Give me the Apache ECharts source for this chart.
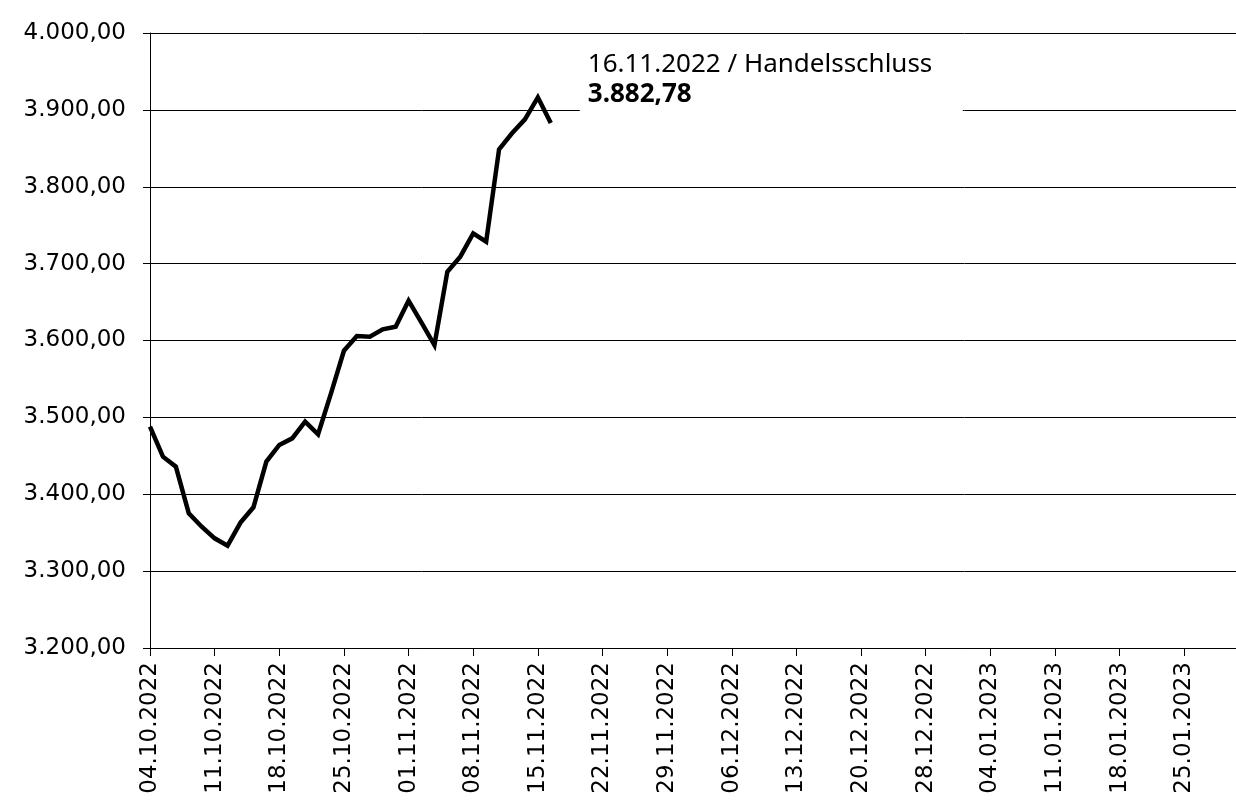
<!DOCTYPE html>
<html>
<head>
<meta charset="utf-8">
<script src="https://cdn.jsdelivr.net/npm/echarts@6/dist/echarts.min.js"></script>
<style>
  html, body { margin: 0; padding: 0; background: #fff; }
  #chart { width: 1236px; height: 800px; }
</style>
</head>
<body>
<div id="chart"></div>
<script>
// Trading days shown on the time axis (Oct 2022 – Jan 2023)
const tradingDays = [
  '04.10.2022','05.10.2022','06.10.2022','07.10.2022','10.10.2022','11.10.2022','12.10.2022','13.10.2022','14.10.2022',
  '17.10.2022','18.10.2022','19.10.2022','20.10.2022','21.10.2022','24.10.2022','25.10.2022','26.10.2022','27.10.2022',
  '28.10.2022','31.10.2022',
  '01.11.2022','02.11.2022','03.11.2022','04.11.2022','07.11.2022','08.11.2022','09.11.2022','10.11.2022','11.11.2022',
  '14.11.2022','15.11.2022','16.11.2022','17.11.2022','18.11.2022','21.11.2022','22.11.2022','23.11.2022','24.11.2022',
  '25.11.2022','28.11.2022','29.11.2022','30.11.2022',
  '01.12.2022','02.12.2022','05.12.2022','06.12.2022','07.12.2022','08.12.2022','09.12.2022','12.12.2022','13.12.2022',
  '14.12.2022','15.12.2022','16.12.2022','19.12.2022','20.12.2022','21.12.2022','22.12.2022','23.12.2022','27.12.2022',
  '28.12.2022','29.12.2022','30.12.2022',
  '02.01.2023','03.01.2023','04.01.2023','05.01.2023','06.01.2023','09.01.2023','10.01.2023','11.01.2023','12.01.2023',
  '13.01.2023','16.01.2023','17.01.2023','18.01.2023','19.01.2023','20.01.2023','23.01.2023','24.01.2023','25.01.2023',
  '26.01.2023','27.01.2023','30.01.2023','31.01.2023'
];

// Daily closing values, 04.10.2022 – 16.11.2022
const closes = [
  3487.9, 3448.9, 3435.9, 3375.2, 3357.8, 3342.7, 3333.1, 3363.1, 3383.0,
  3442.4, 3464.1, 3472.7, 3494.4, 3478.0, 3531.3, 3586.7, 3605.9, 3605.0,
  3614.5, 3618.0, 3651.8, 3623.2, 3594.1, 3689.5, 3709.0, 3739.4, 3728.5,
  3848.7, 3869.5, 3887.7, 3916.3, 3882.78
];

const yMin = 3200, yMax = 4000, yStep = 100;
const closeLabelTitle = '16.11.2022 / Handelsschluss';

// German number format: 3.882,78
function deNumber(v) {
  const parts = v.toFixed(2).split('.');
  const intPart = parts[0].replace(/\B(?=(\d{3})+(?!\d))/g, '.');
  return intPart + ',' + parts[1];
}

const axisFont = 'DejaVu Sans';
const chart = echarts.init(document.getElementById('chart'), null, { renderer: 'canvas' });

chart.setOption({
  animation: false,
  backgroundColor: '#fff',
  grid: { left: 150, right: 0, top: 33, bottom: 152, containLabel: false },
  xAxis: {
    type: 'category',
    data: tradingDays,
    boundaryGap: false,
    axisLine: { show: true, lineStyle: { color: '#000', width: 1 } },
    axisTick: { show: true, interval: 4, length: 8, lineStyle: { color: '#000', width: 1 } },
    axisLabel: {
      interval: 4,
      rotate: 90,
      margin: 14,
      color: '#000',
      fontFamily: axisFont,
      fontSize: 23
    },
    splitLine: { show: false }
  },
  yAxis: {
    type: 'value',
    min: yMin,
    max: yMax,
    interval: yStep,
    axisLine: { show: true, lineStyle: { color: '#000', width: 1 } },
    axisTick: { show: true, length: 7, lineStyle: { color: '#000', width: 1 } },
    axisLabel: {
      margin: 24,
      color: '#000',
      fontFamily: axisFont,
      fontSize: 23,
      formatter: v => deNumber(v)
    },
    splitLine: { show: true, lineStyle: { color: '#000', width: 1 } }
  },
  series: [{
    type: 'line',
    data: closes,
    symbol: 'none',
    lineStyle: { color: '#000', width: 4.5, join: 'miter' },
    z: 5,
    endLabel: {
      show: true,
      distance: 0,
      offset: [29, -44],
      backgroundColor: '#fff',
      padding: [8, 10, 8, 8],
      width: 365,
      align: 'left',
      verticalAlign: 'middle',
      formatter: p => '{t|' + closeLabelTitle + '}\n{v|' + deNumber(p.value) + '}',
      rich: {
        t: { fontFamily: 'Noto Sans', fontSize: 26, color: '#000', lineHeight: 30 },
        v: { fontFamily: 'Noto Sans', fontSize: 26, fontWeight: 'bold', color: '#000', lineHeight: 30 }
      }
    }
  }]
});
</script>
</body>
</html>
